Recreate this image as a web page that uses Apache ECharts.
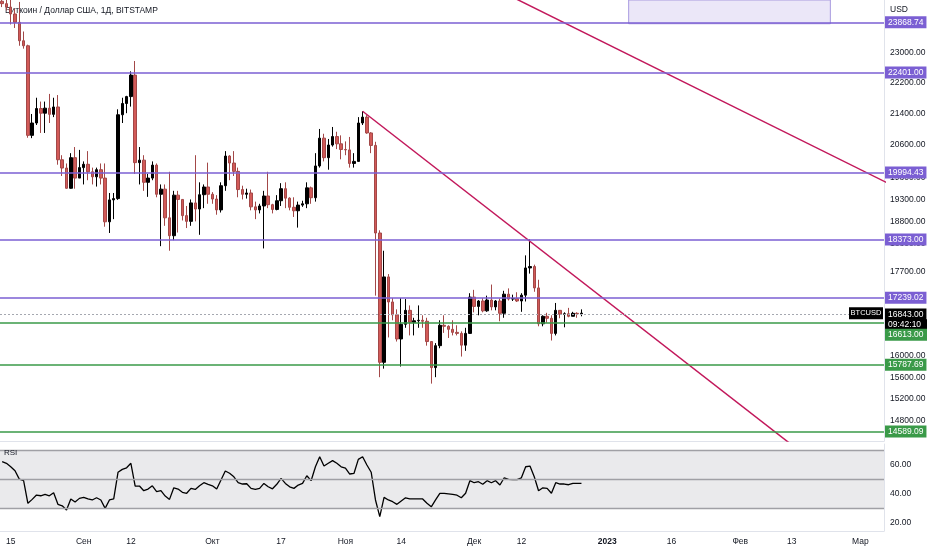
<!DOCTYPE html>
<html>
<head>
<meta charset="utf-8">
<script src="https://cdn.jsdelivr.net/npm/echarts@6.0.0/dist/echarts.min.js"></script>
<style>
  html, body { margin: 0; padding: 0; background: #fff; }
  #main { width: 932px; height: 550px; }
</style>
</head>
<body>
<div id="main"></div>
<script>
// daily candles from 2022-08-13: [open, high, low, close]
var startDay = Date.UTC(2022, 7, 13);
var dayCount = 206;
var candles = [
  [24470,24800,24300,24400],[24400,25000,24200,24300],[24300,25200,23800,24100],[24100,24250,23700,23860],
  [23860,24450,23200,23340],[23340,23600,23120,23200],[23200,23230,20780,20840],[20840,21380,20770,21150],
  [21150,21800,21100,21520],[21520,21700,20900,21400],[21400,21700,20900,21530],[21530,21900,21150,21370],
  [21370,21800,21300,21560],[21560,21870,20120,20240],[20240,20350,19850,20040],[20040,20150,19550,19560],
  [19560,20400,19550,20290],[20290,20550,19550,19800],[19800,20480,19800,20050],
  [20050,20200,19650,20130],[20130,20450,19750,19950],[19950,20050,19650,19830],[19830,20050,19600,20000],
  [20000,20150,19650,19800],[19800,20150,18680,18790],[18790,19450,18540,19290],[19290,19450,18850,19320],
  [19320,21500,19290,21360],[21360,21800,21150,21650],[21650,21850,21400,21830],[21830,22500,21570,22400],
  [22400,22780,19900,20170],[20170,20550,19650,20230],[20230,20350,19500,19700],[19700,19900,19360,19800],
  [19800,20200,19750,20110],[20110,20150,19350,19420],[19420,19650,18250,19540],[19540,19650,18700,18880],
  [18880,19950,18150,18480],[18480,19500,18380,19400],[19400,19500,18550,19300],[19300,19300,18820,18930],
  [18930,19150,18650,18800],[18800,19300,18700,19220],[19220,20350,18800,19080],[19080,19700,18500,19410],
  [19410,19650,19100,19590],[19590,20170,19200,19420],
  [19420,19470,19200,19310],[19310,19400,18950,19060],[19060,19700,19000,19620],[19620,20450,19500,20330],
  [20330,20350,19750,20160],[20160,20450,19850,19960],[19960,20050,19350,19530],[19530,19620,19300,19420],
  [19420,19550,19320,19450],[19450,19530,19050,19130],[19130,19250,18850,19060],[19060,19200,18980,19150],
  [19150,19500,18200,19380],[19380,19950,19100,19180],[19180,19200,18980,19070],[19070,19400,19050,19270],
  [19270,19680,19150,19550],[19550,19700,19100,19330],[19330,19350,19050,19120],[19120,19350,18900,19040],
  [19040,19250,18660,19170],[19170,19270,19130,19200],[19200,19700,19100,19570],[19570,19600,19200,19340],
  [19340,20400,19250,20090],[20090,21000,20050,20770],[20770,20880,20200,20290],[20290,20750,20000,20600],
  [20600,21050,20560,20810],[20810,20930,20500,20630],[20630,20840,20250,20490],
  [20490,20690,20350,20480],[20480,20800,20050,20150],[20150,20400,20050,20200],[20200,21300,20200,21150],
  [21150,21450,21100,21300],[21300,21350,20880,20900],[20900,20920,20400,20590],[20590,20680,17200,18540],
  [18540,18600,15600,15880],[15880,18150,15760,17590],[17590,17650,16360,17070],[17070,17150,16700,16810],
  [16810,16920,16280,16330],[16330,17150,15800,16620],[16620,17130,16550,16900],[16900,17000,16400,16660],
  [16660,16750,16400,16690],[16690,17000,16550,16700],[16700,16800,16550,16680],[16680,16750,16200,16280],
  [16280,16290,15480,15780],[15780,16250,15600,16200],[16200,16700,16150,16600],[16600,16800,16450,16580],
  [16580,16600,16350,16520],[16520,16700,16400,16460],[16460,16600,16400,16440],[16440,16480,15990,16210],
  [16210,16550,16100,16440],[16440,17250,16430,17170],
  [17170,17320,16860,16980],[16980,17110,16800,17090],[17090,17150,16860,16890],[16890,17200,16870,17110],
  [17110,17430,16900,16970],[16970,17110,16900,17090],[17090,17140,16680,16840],[16840,17300,16750,17230],
  [17230,17350,17100,17130],[17130,17220,17090,17140],[17140,17270,17070,17090],[17090,17250,16870,17210],
  [17210,18050,17080,17780],[17780,18400,17660,17810],[17810,17850,17280,17360],[17360,17530,16580,16630],
  [16630,16800,16580,16780],[16780,16850,16650,16740],[16740,16800,16300,16440],[16440,17050,16400,16900],
  [16900,16900,16740,16820],[16820,16860,16560,16830],[16830,16950,16760,16780],[16780,16870,16780,16840],
  [16840,16860,16750,16830],[16830,16920,16780,16843]
];
var rsi = [
  62.3,61.2,58.8,56,50.3,49.2,33.6,36.3,39.3,38.8,39.8,38.8,40.9,32.9,31.9,29,36.6,34.5,37,
  37.7,36.6,35.9,37.4,35.9,30.1,35.9,36.6,55,57,58.1,61.2,45.5,45.5,42.3,43.4,45.7,41.6,42.3,38.6,36.3,
  44.3,43.4,41.2,40.5,43.9,43.2,45.7,47.8,46.7,
  45.7,43.4,49.7,55.9,54.3,51.9,47.8,46.9,47.1,43.9,43.2,43.9,47.3,45,43.6,46.7,50.8,47.3,45,43.9,46.2,
  47.3,52.6,49.2,58.8,65.7,59.3,61.2,63,61.2,58.8,
  57.9,53.8,54.3,63.9,65.7,60,55,35.9,24.4,37.7,35.9,34.7,32.9,35.2,37.4,36.6,36.6,36.6,36.6,33.6,
  31.2,35.9,40.5,40.5,40.1,39.7,39.2,37.4,40.5,49.2,
  47.8,48.5,46.7,49.2,47.8,49.2,46.2,51.2,50.1,49.9,49.9,51.2,58.8,59.3,51.9,42.3,44.3,43.9,40.5,47.8,
  46.9,46.9,46.4,47.3,47.3,47.3
];
var purpleLevels = [23868.74, 22401.00, 19994.43, 18373.00, 17239.02];
var greenLevels = [16613.00, 15787.69, 14589.09];
var lastPrice = 16843.00;
var timer = '09:42:10';
// drawings, x = day index from 2022-08-13
var trend1 = [[118, 24650], [208, 19600]];
var trend2 = [[84, 21450], [187, 14214]];
var boxArea = [[146, 23820], [193, 24600]];
var priceTicks = [23000, 22200, 21400, 20600, 19800, 19300, 18800, 18300, 17700, 17100, 16000, 15600, 15200, 14800];
var priceRange = [14452, 24507];
var rsiTicks = [20, 40, 60];
var rsiBand = [30, 50, 70];
var dateLabels = {
  '2022-08-15': '15', '2022-09-01': 'Сен', '2022-09-12': '12', '2022-10-01': 'Окт',
  '2022-10-17': '17', '2022-11-01': 'Ноя', '2022-11-14': '14', '2022-12-01': 'Дек',
  '2022-12-12': '12', '2023-01-01': '2023', '2023-01-16': '16', '2023-02-01': 'Фев',
  '2023-02-13': '13', '2023-03-01': 'Мар'
};

var dates = [];
for (var i = 0; i < dayCount; i++) {
  dates.push(new Date(startDay + i * 86400000).toISOString().slice(0, 10));
}
var lg = Math.log;
var kdata = candles.map(function (c) { return [lg(c[0]), lg(c[3]), lg(c[2]), lg(c[1])]; });
var font = 'Liberation Sans, Arial, sans-serif';
var txt = '#131722';
var purple = '#7b5fd3';
var green = '#3a9a48';
// level whose axis tag is pushed below the timer box
var shifted = greenLevels[0];

function levelLine(v, color) {
  return {
    yAxis: lg(v),
    lineStyle: { color: color, width: 1.5, type: 'solid' },
    label: {
      show: v !== shifted, position: 'end', distance: 1, formatter: v.toFixed(2),
      color: '#fff', backgroundColor: color, padding: [2, 3, 1, 3], fontSize: 8.5, fontFamily: font
    }
  };
}
var levels = purpleLevels.map(function (v) { return levelLine(v, purple); })
  .concat(greenLevels.map(function (v) { return levelLine(v, green); }));
levels.push({
  yAxis: lg(lastPrice),
  lineStyle: { color: '#a5a8b0', width: 1, type: [2, 2] },
  label: {
    show: true, position: 'end', distance: 1, formatter: lastPrice.toFixed(2),
    color: '#fff', backgroundColor: '#000', padding: [2, 3, 1, 3], fontSize: 8.5, fontFamily: font
  }
});

var myChart = echarts.init(document.getElementById('main'));
var option = {
  animation: false,
  textStyle: { fontFamily: font },
  title: {
    text: 'Биткоин / Доллар США, 1Д, BITSTAMP', left: 5, top: 6, padding: 0, z: 1,
    textStyle: { fontSize: 8.5, fontWeight: 'normal', color: txt, fontFamily: font }
  },
  grid: [
    { left: 0, right: 48, top: 0, height: 441 },
    { left: 0, right: 48, top: 444, height: 87 }
  ],
  xAxis: [
    {
      type: 'category', gridIndex: 0, data: dates, boundaryGap: true,
      axisLabel: { show: false }, axisTick: { show: false },
      axisLine: { lineStyle: { color: '#e0e3eb' } }
    },
    {
      type: 'category', gridIndex: 1, data: dates, boundaryGap: true,
      axisTick: { show: false },
      axisLine: { lineStyle: { color: '#e0e3eb' } },
      axisLabel: {
        color: txt, fontSize: 8.5, margin: 6,
        interval: function (idx, val) { return dateLabels[val] !== undefined; },
        formatter: function (val) {
          var s = dateLabels[val] || '';
          return s === '2023' ? '{b|2023}' : s;
        },
        rich: { b: { fontWeight: 'bold', fontSize: 8.5, color: txt, fontFamily: font } }
      }
    },
    { type: 'value', gridIndex: 0, min: -0.5, max: dayCount - 0.5, show: false }
  ],
  yAxis: [
    {
      type: 'value', gridIndex: 0, position: 'right', scale: true,
      min: lg(priceRange[0]), max: lg(priceRange[1]),
      splitLine: { show: false }, axisTick: { show: false },
      axisLine: { show: true, onZero: false, lineStyle: { color: '#e0e3eb' } },
      axisLabel: {
        customValues: priceTicks.map(lg), color: txt, fontSize: 8.5, margin: 6,
        formatter: function (v) { return Math.exp(v).toFixed(2); }
      }
    },
    {
      type: 'value', gridIndex: 1, position: 'right', min: 14.5, max: 74.5,
      splitLine: { show: false }, axisTick: { show: false },
      axisLine: { show: true, onZero: false, lineStyle: { color: '#e0e3eb' } },
      axisLabel: {
        customValues: rsiTicks, color: txt, fontSize: 8.5, margin: 6,
        formatter: function (v) { return v.toFixed(2); }
      }
    }
  ],
  series: [
    {
      name: 'BTCUSD', type: 'candlestick', xAxisIndex: 0, yAxisIndex: 0,
      data: kdata, barWidth: '70%',
      itemStyle: { color: '#000', borderColor: '#000', color0: '#d25a58', borderColor0: '#a34848', borderWidth: 1 },
      markLine: { silent: true, symbol: 'none', data: levels }
    },
    {
      type: 'line', xAxisIndex: 2, yAxisIndex: 0, clip: true, symbol: 'none',
      data: trend1.map(function (p) { return [p[0], lg(p[1])]; }),
      lineStyle: { color: '#c2185b', width: 1.5 },
      markArea: {
        silent: true,
        itemStyle: { color: 'rgba(123,95,211,0.15)', borderColor: '#a99be0', borderWidth: 1 },
        data: [[{ xAxis: boxArea[0][0], yAxis: lg(boxArea[0][1]) }, { xAxis: boxArea[1][0], yAxis: lg(boxArea[1][1]) }]]
      }
    },
    {
      type: 'line', xAxisIndex: 2, yAxisIndex: 0, clip: true, symbol: 'none',
      data: trend2.map(function (p) { return [p[0], lg(p[1])]; }),
      lineStyle: { color: '#c2185b', width: 1.5 }
    },
    {
      name: 'RSI', type: 'line', xAxisIndex: 1, yAxisIndex: 1, symbol: 'none',
      data: rsi, lineStyle: { color: '#000', width: 1.3 },
      markArea: {
        silent: true, itemStyle: { color: '#eaeaec' },
        data: [[{ yAxis: rsiBand[0] }, { yAxis: rsiBand[2] }]]
      },
      markLine: {
        silent: true, symbol: 'none', label: { show: false },
        lineStyle: { color: '#a0a0a5', width: 1.3, type: 'solid' },
        data: rsiBand.map(function (v) { return { yAxis: v }; })
      }
    }
  ]
};
myChart.setOption(option);

// tags pinned to the last price and to the shifted level
var py = myChart.convertToPixel({ yAxisIndex: 0 }, lg(lastPrice));
var gy = myChart.convertToPixel({ yAxisIndex: 0 }, lg(shifted));
var tagFont = '8.5px ' + font;
myChart.setOption({
  graphic: [
    { type: 'text', left: 890, top: 5, z: 100, style: { text: 'USD', fill: txt, font: tagFont } },
    { type: 'text', left: 4, top: 449, z: 100, style: { text: 'RSI', fill: txt, font: '8px ' + font } },
    { type: 'rect', z: 100, shape: { x: 849, y: py - 6, width: 34, height: 12 }, style: { fill: '#000' } },
    { type: 'text', z: 101, x: 866, y: py, style: { text: 'BTCUSD', fill: '#fff', font: '7.5px ' + font, align: 'center', verticalAlign: 'middle' } },
    { type: 'rect', z: 100, shape: { x: 885, y: py + 6, width: 42, height: 11 }, style: { fill: '#000' } },
    { type: 'text', z: 101, x: 888, y: py + 11.5, style: { text: timer, fill: '#fff', font: tagFont, verticalAlign: 'middle' } },
    { type: 'rect', z: 100, shape: { x: 885, y: gy + 4, width: 42, height: 12 }, style: { fill: green } },
    { type: 'text', z: 101, x: 888, y: gy + 10.5, style: { text: shifted.toFixed(2), fill: '#fff', font: tagFont, verticalAlign: 'middle' } }
  ]
});
window.onresize = myChart.resize;
</script>
</body>
</html>
